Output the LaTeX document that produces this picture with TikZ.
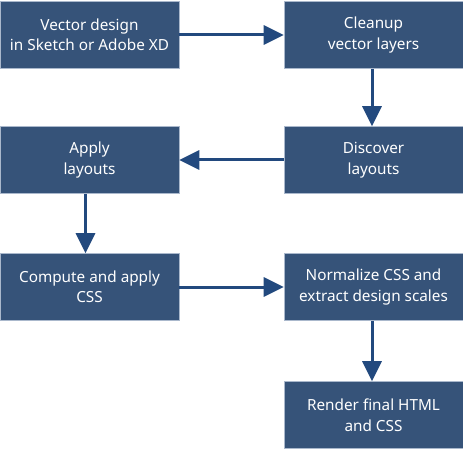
\documentclass[tikz,border=0pt]{standalone}
\usepackage{fontspec}
\setmainfont{Noto Sans}
\usepackage{tikz}
\usetikzlibrary{arrows.meta,positioning}
\definecolor{boxblue}{RGB}{54,83,121}
\definecolor{boxedge}{RGB}{170,184,204}
\definecolor{arrowblue}{RGB}{34,73,126}
\tikzset{
  stepbox/.style={rectangle, fill=boxblue, draw=boxedge, line width=0.6pt, text=white,
    minimum width=179pt, minimum height=67pt, align=center, inner sep=0pt,
    font=\fontsize{15.3}{20.5}\selectfont},
  flow/.style={arrowblue, line width=3pt, -{Triangle[length=20pt,width=19pt]}}
}
\begin{document}
\begin{tikzpicture}[x=1pt,y=-1pt]
\useasboundingbox (0,0) rectangle (463,449);
% Boxes (left column / right column)
\node[stepbox] (design) at (89.5,35) {Vector design\\in Sketch or Adobe XD};
\node[stepbox] (cleanup) at (373.5,35) {Cleanup\\vector layers};
\node[stepbox] (discover) at (373.5,160) {Discover\\layouts};
\node[stepbox] (apply) at (89.5,160) {Apply\\layouts};
\node[stepbox] (compute) at (89.5,287) {Compute and apply\\CSS};
\node[stepbox] (normalize) at (373.5,287) {Normalize CSS and\\extract design scales};
\node[stepbox] (render) at (373.5,415) {Render final HTML\\and CSS};
% Arrows
\draw[flow] (design) -- (cleanup);
\draw[flow] ([xshift=-1.5pt]cleanup.south) -- ([xshift=-1.5pt]discover.north);
\draw[flow] (discover) -- (apply);
\draw[flow] ([xshift=-4pt]apply.south) -- ([xshift=-4pt]compute.north);
\draw[flow] (compute) -- (normalize);
\draw[flow] ([xshift=-1.5pt]normalize.south) -- ([xshift=-1.5pt]render.north);
\end{tikzpicture}
\end{document}
